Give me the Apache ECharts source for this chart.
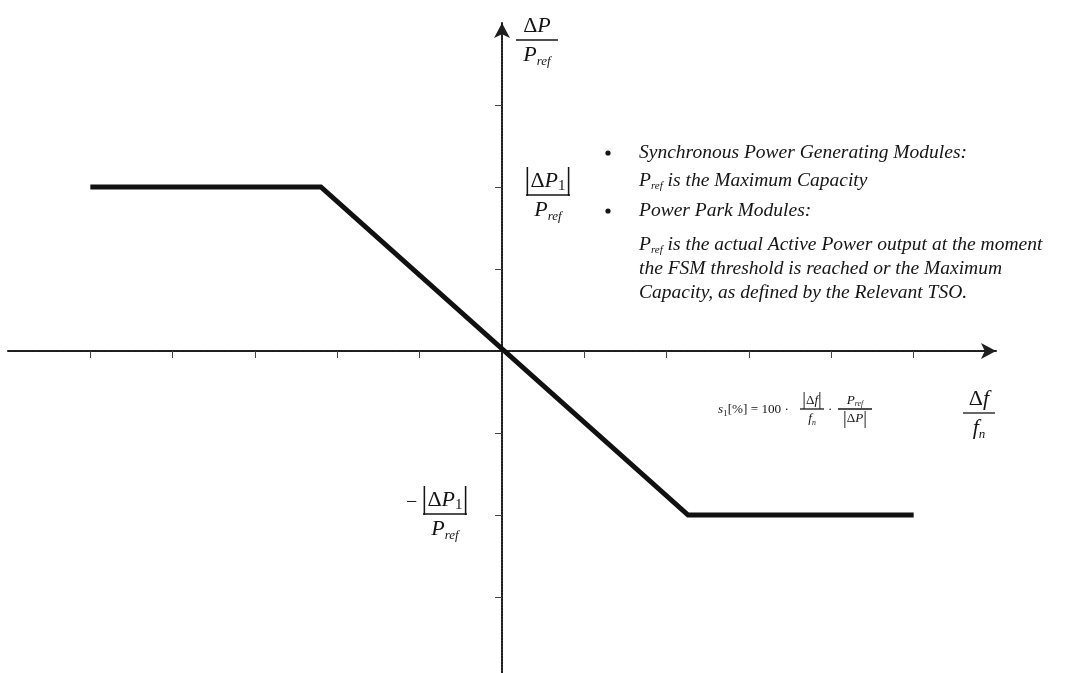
<!DOCTYPE html>
<html>
<head>
<meta charset="utf-8">
<script src="https://cdn.jsdelivr.net/npm/echarts@6/dist/echarts.min.js"></script>
<style>
  html, body { margin: 0; padding: 0; background: #fff; }
  #main { width: 1066px; height: 673px; }
</style>
</head>
<body>
<div id="main"></div>
<script>
// droop characteristic: corners of the FSM curve (x = Δf/fn, y = ΔP/Pref, in tick units)
var droopX = [-5, -2.2, 2.26, 5];
var droopY = [2, 2, -2, -2];
var xTicks = [-5, -4, -3, -2, -1, 1, 2, 3, 4, 5];
var yTicks = [-3, -2, -1, 1, 2, 3];

var notes = [
  'Synchronous Power Generating Modules:',
  '{i|P}{s|ref}{t| is the Maximum Capacity}',
  'Power Park Modules:',
  '{i|P}{s|ref}{t| is the actual Active Power output at the moment}',
  'the FSM threshold is reached or the Maximum',
  'Capacity, as defined by the Relevant TSO.'
];

var FONT = '"Liberation Serif", "Times New Roman", serif';
var INK = '#151515';

// 公式用的富文本样式
function mathRich(k) {
  return {
    i:   { fontFamily: FONT, fontStyle: 'italic', fontSize: 22 * k, lineHeight: 26 * k, fill: INK },
    u:   { fontFamily: FONT, fontSize: 22 * k, lineHeight: 26 * k, fill: INK },
    bar: { fontFamily: FONT, fontSize: 31 * k, lineHeight: 26 * k, fill: INK },
    s:   { fontFamily: FONT, fontStyle: 'italic', fontSize: 13 * k, lineHeight: 12 * k, verticalAlign: 'bottom', fill: INK },
    n:   { fontFamily: FONT, fontSize: 15 * k, lineHeight: 14 * k, verticalAlign: 'bottom', fill: INK }
  };
}

// 分数: 分子 / 横线 / 分母
function frac(cx, ly, w, num, den, k) {
  var r = mathRich(k || 1);
  return [
    { type: 'text', x: cx, y: ly - 1, style: { text: num, rich: r, textAlign: 'center', textVerticalAlign: 'bottom' } },
    { type: 'line', shape: { x1: cx - w / 2, y1: ly, x2: cx + w / 2, y2: ly }, style: { stroke: INK, lineWidth: 1.3 } },
    { type: 'text', x: cx, y: ly + 2, style: { text: den, rich: r, textAlign: 'center', textVerticalAlign: 'top' } }
  ];
}

var absDP1 = '{bar||}{u|Δ}{i|P}{n|1}{bar||}';
var pref = '{i|P}{s|ref}';

var graphics = [];
graphics = graphics.concat(frac(537, 40, 42, '{u|Δ}{i|P}', pref));
graphics = graphics.concat(frac(548, 195, 44, absDP1, pref));
graphics = graphics.concat(frac(445, 514, 44, absDP1, pref));
graphics = graphics.concat(frac(979, 413, 32, '{u|Δ}{i|f}', '{i|f}{s|n}'));
graphics.push({ type: 'text', x: 406, y: 503, style: { text: '−', font: '20px ' + FONT, fill: INK, textAlign: 'left', textVerticalAlign: 'middle' } });

// small formula s1[%] = 100 · |Δf|/fn · Pref/|ΔP|
graphics.push({ type: 'text', x: 718, y: 410, style: {
  text: '{i|s}{n|1}{u|[%] = 100 ·}', rich: mathRich(0.6), textAlign: 'left', textVerticalAlign: 'middle' } });
graphics = graphics.concat(frac(812, 409, 24, '{bar||}{u|Δ}{i|f}{bar||}', '{i|f}{s|n}', 0.6));
graphics.push({ type: 'text', x: 828, y: 410, style: { text: '·', font: '13px ' + FONT, fill: INK, textAlign: 'left', textVerticalAlign: 'middle' } });
graphics = graphics.concat(frac(855, 409, 34, pref, '{bar||}{u|Δ}{i|P}{bar||}', 0.6));

// bullets + notes
var noteY = [153, 181, 211, 245, 269, 293];
var noteRich = {
  t: { fontFamily: FONT, fontStyle: 'italic', fontSize: 19.5, fill: INK },
  i: { fontFamily: FONT, fontStyle: 'italic', fontSize: 19.5, lineHeight: 22, fill: INK },
  s: { fontFamily: FONT, fontStyle: 'italic', fontSize: 11, lineHeight: 11, verticalAlign: 'bottom', fill: INK }
};
notes.forEach(function (line, idx) {
  var txt = line.indexOf('{') === 0 ? line : '{t|' + line + '}';
  graphics.push({ type: 'text', x: 639, y: noteY[idx], style: { text: txt, rich: noteRich, textAlign: 'left', textVerticalAlign: 'middle' } });
});
[153, 211].forEach(function (by) {
  graphics.push({ type: 'circle', shape: { cx: 608, cy: by, r: 2.6 }, style: { fill: INK } });
});

var axisLineStyle = { color: '#1e1e1e', width: 2, type: [2, 1] };

var option = {
  backgroundColor: '#fff',
  animation: false,
  grid: { left: 8, width: 988, top: 23, height: 656, outerBoundsMode: 'none' },
  xAxis: {
    type: 'value', min: -6, max: 6,
    splitLine: { show: false },
    axisLabel: { show: false },
    axisLine: { onZero: true, symbol: ['none', 'arrow'], symbolSize: [12, 15], lineStyle: axisLineStyle },
    axisTick: { show: true, length: 7, customValues: xTicks, lineStyle: { color: '#444', width: 1 } }
  },
  yAxis: {
    type: 'value', min: -4, max: 4,
    splitLine: { show: false },
    axisLabel: { show: false },
    axisLine: { onZero: true, symbol: ['none', 'arrow'], symbolSize: [12, 15], lineStyle: axisLineStyle },
    axisTick: { show: true, length: 7, customValues: yTicks, lineStyle: { color: '#444', width: 1 } }
  },
  series: [{
    type: 'line',
    data: droopX.map(function (x, i) { return [x, droopY[i]]; }),
    symbol: 'none',
    lineStyle: { color: '#111', width: 5, cap: 'butt', join: 'miter' },
    z: 5
  }],
  graphic: graphics
};

var chart = echarts.init(document.getElementById('main'));
chart.setOption(option);
</script>
</body>
</html>
